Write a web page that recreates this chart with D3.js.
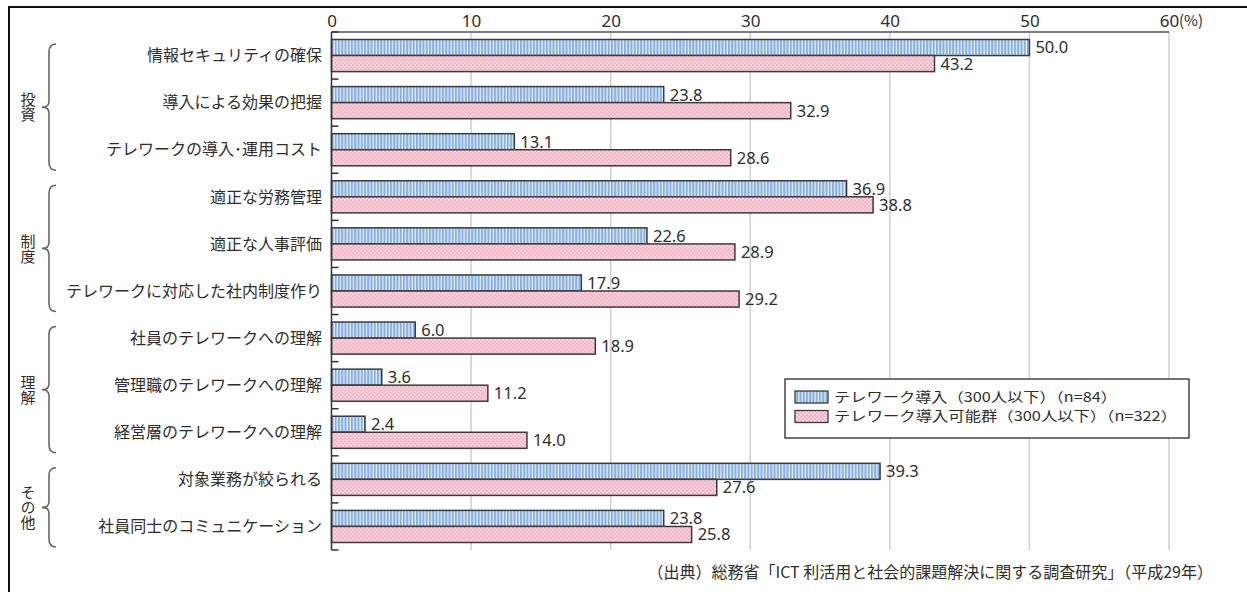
<!DOCTYPE html>
<html lang="ja">
<head>
<meta charset="utf-8">
<script src="https://cdn.jsdelivr.net/npm/d3@7"></script>
<style>
  html, body { margin: 0; padding: 0; background: #fff; }
  svg { display: block; font-family: "Noto Sans CJK JP", "Noto Sans", sans-serif; }
</style>
</head>
<body>
<svg id="chart" width="1247" height="592"></svg>
<script>
// Categories (top to bottom)
const categories = [
  "情報セキュリティの確保",
  "導入による効果の把握",
  "テレワークの導入･運用コスト",
  "適正な労務管理",
  "適正な人事評価",
  "テレワークに対応した社内制度作り",
  "社員のテレワークへの理解",
  "管理職のテレワークへの理解",
  "経営層のテレワークへの理解",
  "対象業務が絞られる",
  "社員同士のコミュニケーション"
];
// Series values (%)
const introduced = [50.0, 23.8, 13.1, 36.9, 22.6, 17.9, 6.0, 3.6, 2.4, 39.3, 23.8];
const possible   = [43.2, 32.9, 28.6, 38.8, 28.9, 29.2, 18.9, 11.2, 14.0, 27.6, 25.8];
const seriesNames = [
  "テレワーク導入（300人以下）（n=84）",
  "テレワーク導入可能群（300人以下）（n=322）"
];
// Category groups
const groupNames = ["投資", "制度", "理解", "その他"];
const groupSizes = [3, 3, 3, 2];
// Axis ticks
const tickValues = [0, 10, 20, 30, 40, 50, 60];
const sourceText = "（出典）総務省「ICT 利活用と社会的課題解決に関する調査研究」（平成29年）";

const svg = d3.select("#chart");
const defs = svg.append("defs");
const ink = "#2e2e2e";
const latin = "'Noto Sans', 'Noto Sans CJK JP', sans-serif";

// Vertical stripe fill for the first series
const stripe = defs.append("pattern")
  .attr("id", "stripe").attr("patternUnits", "userSpaceOnUse")
  .attr("width", 3.25).attr("height", 4);
stripe.append("rect").attr("width", 3.25).attr("height", 4).attr("fill", "#e6eefa");
stripe.append("rect").attr("width", 2).attr("height", 4).attr("fill", "#86aee0");

// Fine checker fill for the second series
const check = defs.append("pattern")
  .attr("id", "check").attr("patternUnits", "userSpaceOnUse")
  .attr("width", 4).attr("height", 4);
check.append("rect").attr("width", 4).attr("height", 4).attr("fill", "#fad4de");
check.append("rect").attr("x", 0).attr("y", 0).attr("width", 2).attr("height", 2).attr("fill", "#f4b4c5");
check.append("rect").attr("x", 2).attr("y", 2).attr("width", 2).attr("height", 2).attr("fill", "#f4b4c5");

// Outer frame
svg.append("rect")
  .attr("x", 9).attr("y", 7).attr("width", 1260).attr("height", 600)
  .attr("fill", "none").attr("stroke", "#111").attr("stroke-width", 2);

const x = d3.scaleLinear().domain([0, 60]).range([331.5, 1169]);
const y = d3.scaleBand().domain(categories).range([32, 550]).padding(0);
const ySeries = d3.scaleBand().domain([0, 1])
  .range([7.5, y.bandwidth() - 7.5]).padding(0);

// Grid lines
svg.append("g").selectAll("line")
  .data(tickValues.filter(v => v > 0))
  .join("line")
  .attr("x1", d => x(d)).attr("x2", d => x(d))
  .attr("y1", 32).attr("y2", 550)
  .attr("stroke", "#cfcfcf").attr("stroke-width", 1.5);

// Top border of plot
svg.append("line")
  .attr("x1", x(0)).attr("x2", x(60)).attr("y1", 32).attr("y2", 32)
  .attr("stroke", "#555").attr("stroke-width", 1.5);

// Top axis labels
const axis = svg.append("g")
  .attr("transform", "translate(0,27)")
  .call(d3.axisTop(x).tickValues(tickValues).tickSize(0).tickPadding(0).tickFormat(d3.format("d")));
axis.select(".domain").remove();
axis.selectAll("text")
  .attr("font-size", 17).attr("fill", ink)
  .attr("font-family", latin);
svg.append("text")
  .attr("x", x(60) + 10).attr("y", 26)
  .attr("font-size", 15).attr("fill", ink)
  .text("(%)");

// Bars
const rows = categories.map((c, i) => ({ c, vals: [introduced[i], possible[i]] }));
const rowG = svg.append("g").selectAll("g")
  .data(rows).join("g")
  .attr("transform", d => `translate(0,${y(d.c)})`);

const fills = ["url(#stripe)", "url(#check)"];
rowG.selectAll("rect")
  .data(d => d.vals.map((v, k) => ({ v, k })))
  .join("rect")
  .attr("x", x(0))
  .attr("y", d => ySeries(d.k))
  .attr("width", d => x(d.v) - x(0))
  .attr("height", ySeries.bandwidth())
  .attr("fill", d => fills[d.k])
  .attr("stroke", "#3a3a3a").attr("stroke-width", 1.5);

rowG.selectAll("text.val")
  .data(d => d.vals.map((v, k) => ({ v, k })))
  .join("text")
  .attr("class", "val")
  .attr("x", d => x(d.v) + 6)
  .attr("y", d => ySeries(d.k) + ySeries.bandwidth() / 2)
  .attr("dy", "0.36em")
  .attr("font-size", 16.5).attr("fill", ink)
  .attr("font-family", latin)
  .text(d => d3.format(".1f")(d.v));

// Category labels
svg.append("g").selectAll("text")
  .data(categories).join("text")
  .attr("x", 322)
  .attr("y", d => y(d) + y.bandwidth() / 2)
  .attr("dy", "0.36em")
  .attr("text-anchor", "end")
  .attr("font-size", 16).attr("fill", ink)
  .text(d => d);

// Left axis line and boundary ticks
svg.append("line")
  .attr("x1", x(0)).attr("x2", x(0)).attr("y1", 32).attr("y2", 550)
  .attr("stroke", "#333").attr("stroke-width", 1.5);
const bounds = d3.range(categories.length + 1).map(i => y.range()[0] + i * y.step());
svg.append("g").selectAll("line")
  .data(bounds).join("line")
  .attr("x1", x(0)).attr("x2", x(0) + 7)
  .attr("y1", d => d).attr("y2", d => d)
  .attr("stroke", "#333").attr("stroke-width", 1.5);

// Group braces and vertical labels
let start = 0;
groupNames.forEach((name, gi) => {
  const first = categories[start];
  const last = categories[start + groupSizes[gi] - 1];
  const y0 = y(first) + 12;
  const y1 = y(last) + y.bandwidth() - 3;
  const ym = (y0 + y1) / 2;
  const p = d3.path();
  p.moveTo(56, y0);
  p.quadraticCurveTo(49, y0, 49, y0 + 8);
  p.lineTo(49, ym - 6);
  p.quadraticCurveTo(49, ym, 42, ym);
  p.quadraticCurveTo(49, ym, 49, ym + 6);
  p.lineTo(49, y1 - 8);
  p.quadraticCurveTo(49, y1, 56, y1);
  svg.append("path").attr("d", p.toString())
    .attr("fill", "none").attr("stroke", "#666").attr("stroke-width", 1.6);

  svg.append("text")
    .attr("x", 28).attr("y", ym)
    .attr("writing-mode", "vertical-rl")
    .attr("text-anchor", "middle")
    .attr("font-size", 15).attr("fill", ink)
    .text(name);
  start += groupSizes[gi];
});

// Legend
const legend = svg.append("g");
legend.append("rect")
  .attr("x", 785).attr("y", 379).attr("width", 404).attr("height", 59)
  .attr("fill", "#fff").attr("stroke", "#444").attr("stroke-width", 1.5);
const legendWidths = [283, 343];
seriesNames.forEach((name, k) => {
  const ly = 391 + k * 19.5;
  legend.append("rect")
    .attr("x", 795).attr("y", ly).attr("width", 33).attr("height", 12)
    .attr("fill", fills[k]).attr("stroke", "#3a3a3a").attr("stroke-width", 1.3);
  legend.append("text")
    .attr("x", 834).attr("y", ly + 6).attr("dy", "0.36em")
    .attr("font-size", 13.4).attr("fill", ink)
    .attr("textLength", legendWidths[k])
    .attr("lengthAdjust", "spacingAndGlyphs")
    .text(name);
});

// Source note
svg.append("text")
  .attr("x", 1213).attr("y", 572).attr("dy", "0.36em")
  .attr("text-anchor", "end")
  .attr("font-size", 16).attr("fill", ink)
  .text(sourceText);
</script>
</body>
</html>
